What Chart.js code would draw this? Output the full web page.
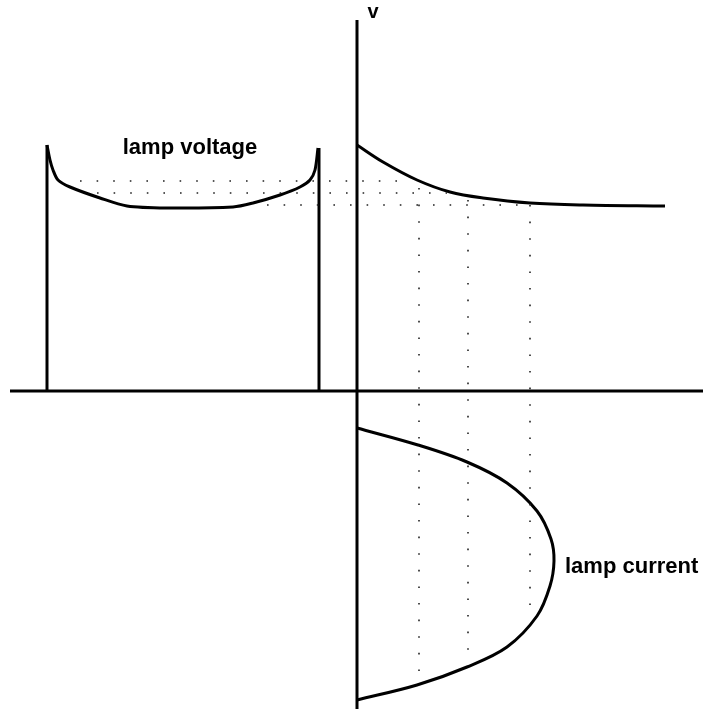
<!DOCTYPE html>
<html>
<head>
<meta charset="utf-8">
<script src="https://cdn.jsdelivr.net/npm/chart.js@4"></script>
<style>
  body { margin: 0; background: #fff; }
  .chart-box { width: 713px; height: 712px; }
</style>
</head>
<body>
<div class="chart-box"><canvas id="lampChart"></canvas></div>
<script>
// diagram units, origin where the two axes cross, y going up
// axes
const axisXEnds = [-347, 346];
const axisYEnds = [371, -318];

// lamp voltage over one half cycle (left of the v axis)
const pulseEdgeTime = [-310, -38];
const pulseEdgeTop = [246, 243];
const voltTime = [-310, -307, -304, -299, -287, -257, -230, -190, -124, -104, -77, -57, -47, -42, -39];
const voltLevel = [246, 231, 221, 211, 204, 193, 185, 183, 184, 188, 196, 204, 211, 221, 243];

// lamp v-i characteristic (right of the v axis)
const viCurrent = [0, 26, 60, 93, 126, 173, 226, 308];
const viVoltage = [246, 229, 211, 199, 193, 188, 186, 185];

// lamp current over the half cycle (below the time axis)
const currentValue = [0, 61, 110, 150, 180, 194, 197, 193, 180, 150, 110, 60, 0];
const currentTime = [-37, -54, -71, -92, -120, -148, -170, -195, -225, -256, -276, -294, -309];

// projection guides
const guideLevel = [210, 198, 186];
const guideLevelFrom = [-277, -260, -90];
const guideLevelTo = [53, 90, 173];
const guideCurrent = [62, 111, 173];
const guideCurrentTop = [203, 191, 186];
const guideCurrentBottom = [-288, -270, -229];

const labelTexts = ["lamp voltage", "lamp current", "v"];

function zip(xs, ys) {
  return xs.map((x, k) => ({ x: x, y: ys[k] }));
}

function lineSet(points, width, tension) {
  return {
    data: points,
    showLine: true,
    borderColor: "#000",
    borderWidth: width,
    pointRadius: 0,
    tension: tension,
    fill: false,
  };
}

function guideSet(points) {
  let ds = lineSet(points, 1.6, 0);
  ds.borderColor = "#222";
  ds.borderDash = [1.6, 15];
  return ds;
}

let datasets = [];

// axes
datasets.push(lineSet(zip(axisXEnds, [0, 0]), 3, 0));
datasets.push(lineSet(zip([0, 0], axisYEnds), 3, 0));

// dotted guides
guideLevel.forEach((lvl, k) => {
  datasets.push(guideSet(zip([guideLevelFrom[k], guideLevelTo[k]], [lvl, lvl])));
});
guideCurrent.forEach((cur, k) => {
  datasets.push(guideSet(zip([cur, cur], [guideCurrentTop[k], guideCurrentBottom[k]])));
});

// voltage pulse
pulseEdgeTime.forEach((t, k) => {
  datasets.push(lineSet(zip([t, t], [0, pulseEdgeTop[k]]), 3, 0));
});
datasets.push(lineSet(zip(voltTime, voltLevel), 3, 0.3));

// v-i curve and current
datasets.push(lineSet(zip(viCurrent, viVoltage), 3, 0.35));
datasets.push(lineSet(zip(currentValue, currentTime), 3, 0.35));

const labelPlugin = {
  id: "diagramLabels",
  afterDatasetsDraw(chart) {
    const ctx = chart.ctx;
    const sx = chart.scales.x;
    const sy = chart.scales.y;
    const spots = [
      { x: -167, y: 243, align: "center", size: 22 },
      { x: 208, y: -176, align: "left", size: 22 },
      { x: 16, y: 379, align: "center", size: 20 },
    ];
    ctx.save();
    ctx.fillStyle = "#000";
    ctx.textBaseline = "middle";
    labelTexts.forEach((txt, k) => {
      const s = spots[k];
      ctx.font = "bold " + s.size + "px 'Liberation Sans', Arial, sans-serif";
      ctx.textAlign = s.align;
      ctx.fillText(txt, sx.getPixelForValue(s.x), sy.getPixelForValue(s.y));
    });
    ctx.restore();
  },
};

new Chart(document.getElementById("lampChart"), {
  type: "scatter",
  data: { datasets: datasets },
  options: {
    responsive: true,
    maintainAspectRatio: false,
    animation: false,
    layout: { padding: 0 },
    plugins: { legend: { display: false }, tooltip: { enabled: false } },
    scales: {
      x: { type: "linear", min: -357, max: 356, display: false },
      y: { type: "linear", min: -321, max: 391, display: false },
    },
  },
  plugins: [labelPlugin],
});
</script>
</body>
</html>
